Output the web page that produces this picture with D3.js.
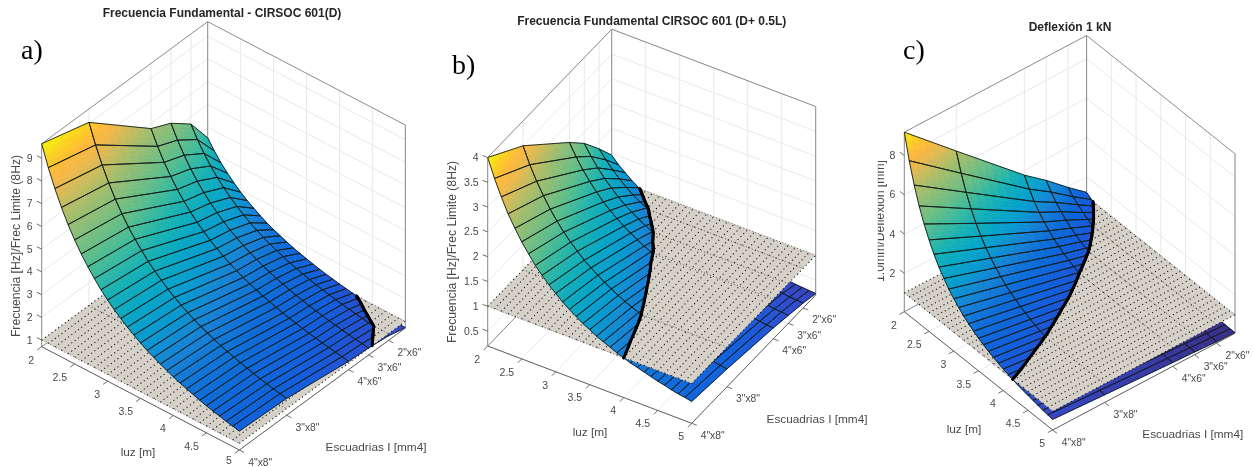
<!DOCTYPE html>
<html><head><meta charset="utf-8">
<style>html,body{margin:0;padding:0;background:#fff}svg{display:block;filter:blur(.35px)}</style>
<script src="https://cdn.jsdelivr.net/npm/d3@7"></script>
</head><body><svg id="chart" width="1254" height="467"></svg>
<script>
// ---------- data ----------
const luz = [2,2.1,2.2,2.3,2.4,2.5,2.6,2.7,2.8,2.9,3,3.1,3.2,3.3,3.4,3.5,3.6,3.7,3.8,3.9,4,4.1,4.2,4.3,4.4,4.5,4.6,4.7,4.8,4.9,5];
const inertia = [2048,1536,864,648,432,250];
const inertiaLabels = ['4"x8"','3"x8"','4"x6"','3"x6"','2"x6"'];
const luzTicks = [2,2.5,3,3.5,4,4.5,5];
const limitLevel = 1;

const freqD = [
 [9.64,8.74,7.97,7.29,6.69,6.17,5.70,5.29,4.92,4.58,4.28,4.01,3.77,3.54,3.34,3.15,2.97,2.82,2.67,2.54,2.41,2.29,2.19,2.09,1.99,1.90,1.82,1.75,1.67,1.61,1.54],
 [9.05,8.21,7.48,6.84,6.28,5.79,5.35,4.97,4.62,4.30,4.02,3.77,3.53,3.32,3.13,2.95,2.79,2.64,2.51,2.38,2.26,2.15,2.05,1.96,1.87,1.79,1.71,1.64,1.57,1.51,1.45],
 [6.77,6.14,5.59,5.12,4.70,4.33,4.01,3.71,3.45,3.22,3.01,2.82,2.64,2.49,2.34,2.21,2.09,1.98,1.88,1.78,1.69,1.61,1.54,1.46,1.40,1.34,1.28,1.23,1.18,1.13,1.08],
 [6.36,5.77,5.26,4.81,4.42,4.07,3.76,3.49,3.24,3.02,2.83,2.65,2.48,2.34,2.20,2.08,1.96,1.86,1.76,1.67,1.59,1.51,1.44,1.38,1.31,1.26,1.20,1.15,1.10,1.06,1.02],
 [5.68,5.15,4.69,4.29,3.94,3.64,3.36,3.12,2.90,2.70,2.52,2.36,2.22,2.09,1.97,1.85,1.75,1.66,1.57,1.49,1.42,1.35,1.29,1.23,1.17,1.12,1.07,1.03,.99,.95,.91],
 [4.53,4.11,3.74,3.43,3.15,2.90,2.68,2.49,2.31,2.15,2.01,1.89,1.77,1.66,1.57,1.48,1.40,1.32,1.25,1.19,1.13,1.08,1.03,.98,.94,.89,.86,.82,.79,.75,.72]
];
const freqDL = [
 [4.00,3.63,3.31,3.02,2.78,2.56,2.37,2.19,2.04,1.90,1.78,1.66,1.56,1.47,1.38,1.31,1.23,1.17,1.11,1.05,1.00,.95,.91,.87,.83,.79,.76,.72,.69,.67,.64],
 [3.50,3.17,2.89,2.65,2.43,2.24,2.07,1.92,1.79,1.66,1.56,1.46,1.37,1.29,1.21,1.14,1.08,1.02,.97,.92,.88,.83,.79,.76,.72,.69,.66,.63,.61,.58,.56],
 [2.60,2.36,2.15,1.97,1.81,1.66,1.54,1.43,1.33,1.24,1.16,1.08,1.02,.95,.90,.85,.80,.76,.72,.68,.65,.62,.59,.56,.54,.51,.49,.47,.45,.43,.42],
 [2.27,2.06,1.88,1.72,1.58,1.45,1.34,1.25,1.16,1.08,1.01,.94,.89,.83,.79,.74,.70,.66,.63,.60,.57,.54,.51,.49,.47,.45,.43,.41,.39,.38,.36],
 [1.85,1.68,1.53,1.40,1.28,1.18,1.09,1.02,.94,.88,.82,.77,.72,.68,.64,.60,.57,.54,.51,.49,.46,.44,.42,.40,.38,.37,.35,.34,.32,.31,.30],
 [1.46,1.32,1.21,1.10,1.01,.93,.86,.80,.74,.69,.65,.61,.57,.54,.51,.48,.45,.43,.40,.38,.37,.35,.33,.32,.30,.29,.28,.26,.25,.24,.23]
];
const deflexion = [
 [9.19,7.94,6.90,6.04,5.32,4.71,4.18,3.73,3.35,3.01,2.72,2.47,2.24,2.05,1.87,1.71,1.58,1.45,1.34,1.24,1.15,1.07,.99,.92,.86,.81,.76,.71,.66,.62,.59],
 [6.83,5.90,5.13,4.49,3.95,3.50,3.11,2.78,2.49,2.24,2.02,1.83,1.67,1.52,1.39,1.27,1.17,1.08,1.00,.92,.85,.79,.74,.69,.64,.60,.56,.53,.49,.46,.44],
 [3.76,3.25,2.82,2.47,2.18,1.93,1.71,1.53,1.37,1.23,1.11,1.01,.92,.84,.77,.70,.64,.59,.55,.51,.47,.44,.41,.38,.35,.33,.31,.29,.27,.26,.24],
 [2.90,2.51,2.18,1.91,1.68,1.48,1.32,1.18,1.06,.95,.86,.78,.71,.65,.59,.54,.50,.46,.42,.39,.36,.34,.31,.29,.27,.25,.24,.22,.21,.20,.19],
 [1.95,1.68,1.47,1.28,1.13,1.00,.89,.79,.71,.64,.58,.52,.48,.43,.40,.36,.33,.31,.28,.26,.24,.23,.21,.20,.18,.17,.16,.15,.14,.13,.12],
 [1.20,1.04,.90,.79,.69,.61,.55,.49,.44,.39,.36,.32,.29,.27,.24,.22,.21,.19,.17,.16,.15,.14,.13,.12,.11,.11,.10,.09,.09,.08,.08]
];
const zTicksA = [1,2,3,4,5,6,7,8,9];
const zTicksB = [0.5,1,1.5,2,2.5,3,3.5,4];
const zTicksC = [2,4,6,8];
const parula = ['#352a87','#3145cc','#0f5cdd','#0a6bd9','#1481d6','#069ad0','#06a7c4','#15b1b4','#38b99e','#5fbd88','#80bd7c','#9cbd6e','#c0bc60','#e8b84e','#ffb83a','#fbd21f','#f5f50c'];

// ---------- layout ----------
const panels = [
 {name:'a)', nameX:21, nameY:59, title:'Frecuencia Fundamental - CIRSOC 601(D)', titleX:222, titleY:17,
  z:freqD, zTicks:zTicksA, zDomain:[0.71,9.64], colorDomain:[0.2,9.64], height:203, left:[41.7,346.7], front:[239.3,450], right:[405.3,328],
  zLabel:'Frecuencia [Hz]/Frec Limite (8Hz)', zLabelX:19.5, zLabelY:246,
  luzLabel:[138,456], iLabel:[376,451]},
 {name:'b)', nameX:452, nameY:74, title:'Frecuencia Fundamental CIRSOC 601 (D+ 0.5L)', titleX:651.7, titleY:25,
  z:freqDL, zTicks:zTicksB, zDomain:[0.2,4], colorDomain:[0.05,4], height:188.5, left:[487.7,346], front:[691.7,423.3], right:[815.7,295],
  zLabel:'Frecuencia [Hz]/Frec Limite (8Hz)', zLabelX:456, zLabelY:252,
  luzLabel:[590,436], iLabel:[817,423]},
 {name:'c)', nameX:903, nameY:59, title:'Deflexión 1 kN', titleX:1070, titleY:31,
  z:deflexion, zTicks:zTicksC, zDomain:[0.05,9.19], colorDomain:[0.08,9.19], height:179.5, left:[904.3,311.7], front:[1052.7,430], right:[1235,333.3],
  zLabel:'1.0mm/Deflexión [mm]', zLabelX:884, zLabelY:221, zLabelClip:877.8,
  luzLabel:[964,433], iLabel:[1192.8,438]}
];
const subCols = 8, subRows = 4;
const svg = d3.select('#chart');
const sansFont = '"Liberation Sans",Arial,sans-serif';
const line = d3.line();
const colorStops = d3.scaleLinear().domain(parula.map((c,i)=>i/(parula.length-1))).range(parula).interpolate(d3.interpolateRgb).clamp(true);

function splitAtLevel(poly, level){
  const up=[], down=[], cut=[];
  poly.forEach((p,k)=>{
    const q=poly[(k+1)%poly.length];
    const pu=p.z>=level, qu=q.z>=level;
    (pu?up:down).push(p);
    if(pu!==qu){
      const s=(level-p.z)/(q.z-p.z);
      const m={L:p.L+s*(q.L-p.L), I:p.I+s*(q.I-p.I), z:level};
      up.push(m); down.push(m); cut.push(m);
    }
  });
  return {up,down,cut};
}

panels.forEach((P,pi)=>{
  const g = svg.append('g');
  const uL = d3.scaleLinear().domain([luz[0],luz[luz.length-1]]).range([0,1]);
  const uI = d3.scaleLinear().domain([inertia[0],inertia[inertia.length-1]]).range([0,1]);
  const zY = d3.scaleLinear().domain(P.zDomain).range([0,P.height]);
  const project = (L,I,z)=>{
    const a=uL(L), b=uI(I);
    return [P.left[0]+a*(P.front[0]-P.left[0])+b*(P.right[0]-P.front[0]),
            P.left[1]+a*(P.front[1]-P.left[1])+b*(P.right[1]-P.front[1])-zY(z)];
  };
  const pv = v=>project(v.L,v.I,v.z);
  const color = d3.scaleLinear().domain(P.colorDomain).range([0,1]);
  const cmap = z=>colorStops(color(z));
  const L0=luz[0], L1=luz[luz.length-1], I0=inertia[0], I1=inertia[inertia.length-1];
  const [zb,zt]=P.zDomain;

  const lines=(sel,data,stroke,w,extra)=>{
    const s=sel.append('g').attr('fill','none').attr('stroke',stroke).attr('stroke-width',w);
    if(extra) s.attr('stroke-dasharray',extra);
    s.selectAll('path').data(data).join('path').attr('d',d=>line(d));
    return s;
  };

  const grid=[];
  P.zTicks.forEach(z=>{ grid.push([project(L0,I0,z),project(L0,I1,z),project(L1,I1,z)]); });
  inertia.slice(0,5).forEach(I=>{ grid.push([project(L0,I,zt),project(L0,I,zb),project(L1,I,zb)]); });
  luzTicks.forEach(L=>{ grid.push([project(L,I1,zt),project(L,I1,zb),project(L,I0,zb)]); });
  lines(g,grid,'#e9e9e9',1);
  lines(g,[
    [project(L0,I0,zb),project(L0,I0,zt),project(L0,I1,zt),project(L1,I1,zt),project(L1,I1,zb)],
    [project(L0,I1,zb),project(L0,I1,zt)],
    [project(L0,I0,zb),project(L0,I1,zb),project(L1,I1,zb)]
  ],'#8c8c8c',1);

  const above={fills:[],edges:[]}, below={fills:[],edges:[]}, contour=[];
  for(let j=inertia.length-2;j>=0;j--) for(let i=0;i<luz.length-1;i++){
    const z00=P.z[j][i], z01=P.z[j][i+1], z10=P.z[j+1][i], z11=P.z[j+1][i+1];
    const node=(a,b)=>({
      L:luz[i]+b*(luz[i+1]-luz[i]),
      I:inertia[j]+a*(inertia[j+1]-inertia[j]),
      z:z00*(1-a)*(1-b)+z10*a*(1-b)+z01*(1-a)*b+z11*a*b});
    for(let a=0;a<subCols;a++) for(let b=0;b<subRows;b++){
      const poly=[node(a/subCols,b/subRows),node((a+1)/subCols,b/subRows),node((a+1)/subCols,(b+1)/subRows),node(a/subCols,(b+1)/subRows)];
      const {up,down,cut}=splitAtLevel(poly,limitLevel);
      const add=(vs,into)=>{ if(vs.length>2){ const c=cmap(d3.mean(vs,v=>v.z)); into.fills.push({pts:vs.map(pv),c}); } };
      add(up,above); add(down,below);
      if(cut.length===2) contour.push(cut.map(pv));
    }
    [[node(0,0),node(1,0)],[node(1,0),node(1,1)],[node(1,1),node(0,1)],[node(0,1),node(0,0)]].forEach(([p,q])=>{
      const pu=p.z>=limitLevel, qu=q.z>=limitLevel;
      if(pu===qu){ (pu?above:below).edges.push([pv(p),pv(q)]); }
      else{
        const s=(limitLevel-p.z)/(q.z-p.z);
        const m={L:p.L+s*(q.L-p.L),I:p.I+s*(q.I-p.I),z:limitLevel};
        (pu?above:below).edges.push([pv(p),pv(m)]);
        (pu?below:above).edges.push([pv(m),pv(q)]);
      }
    });
  }
  const drawSurf=(part)=>{
    const s=g.append('g');
    s.selectAll('path').data(part.fills).join('path')
      .attr('d',d=>line(d.pts)+'Z').attr('fill',d=>d.c).attr('stroke',d=>d.c).attr('stroke-width',.6);
    lines(g,part.edges,'#14201f',.9);
  };
  drawSurf(below);

  g.append('path').attr('d',line([project(L0,I0,limitLevel),project(L0,I1,limitLevel),project(L1,I1,limitLevel),project(L1,I0,limitLevel)])+'Z')
    .attr('fill','#d5d1c9');
  const planeRows=luz.map(L=>[project(L,I0,limitLevel),project(L,I1,limitLevel)]);
  const planeCols=inertia.map(I=>[project(L0,I,limitLevel),project(L1,I,limitLevel)]);
  lines(g,planeRows,'#111',1.1,'1.1 3');
  lines(g,planeCols,'#333',.8,'1 2.2');

  drawSurf(above);
  lines(g,contour,'#000',3).attr('stroke-linecap','round');

  lines(g,[[project(L0,I0,zb),project(L1,I0,zb),project(L1,I1,zb)]],'#5f5f5f',1);
  const iv=[P.right[0]-P.front[0],P.right[1]-P.front[1]], iL=Math.hypot(...iv);
  const lv=[P.front[0]-P.left[0],P.front[1]-P.left[1]], lL=Math.hypot(...lv);
  const tk=5.5;
  const ticks=[];
  luzTicks.forEach(L=>{const p=project(L,I0,zb);ticks.push([p,[p[0]-iv[0]/iL*tk,p[1]-iv[1]/iL*tk]]);});
  inertia.slice(0,5).forEach(I=>{const p=project(L1,I,zb);ticks.push([p,[p[0]+lv[0]/lL*tk,p[1]+lv[1]/lL*tk]]);});
  P.zTicks.forEach(z=>{const p=project(L0,I0,z);ticks.push([p,[p[0]-lv[0]/lL*tk,p[1]-lv[1]/lL*tk]]);});
  lines(g,ticks,'#5f5f5f',.9);

  const text=(x,y,s,size,anchor,fill)=>g.append('text').attr('x',x).attr('y',y).text(s)
    .attr('font-family',sansFont).attr('font-size',size).attr('text-anchor',anchor).attr('fill',fill);
  luzTicks.forEach(L=>{const p=project(L,I0,zb);text(p[0]-7.5,Math.min(p[1]+16.8,464.4),String(L),10.5,'end','#4a4a4a');});
  inertiaLabels.forEach((s,k)=>{const p=project(L1,inertia[k],zb);text(p[0]+9,p[1]+15.5,s,10.3,'start','#4a4a4a');});
  P.zTicks.forEach(z=>{const p=project(L0,I0,z);text(p[0]-9,p[1]+3.5,String(z),10.5,'end','#4a4a4a');});
  text(P.luzLabel[0],P.luzLabel[1],'luz [m]',11.8,'middle','#4a4a4a');
  text(P.iLabel[0],P.iLabel[1],'Escuadrias I [mm4]',11.8,'middle','#4a4a4a');

  const zl=text(0,0,P.zLabel,12.2,'middle','#4a4a4a')
    .attr('transform',`translate(${P.zLabelX},${P.zLabelY}) rotate(-90)`);
  if(P.zLabelClip){
    const id='clip'+pi;
    svg.append('clipPath').attr('id',id).append('rect').attr('x',P.zLabelClip).attr('y',0).attr('width',60).attr('height',467);
    const wrap=g.append('g').attr('clip-path',`url(#${id})`);
    wrap.node().appendChild(zl.node());
  }
  text(P.titleX,P.titleY,P.title,12,'middle','#262626').attr('font-weight','bold');
  g.append('text').attr('x',P.nameX).attr('y',P.nameY).text(P.name)
    .attr('font-family','"Liberation Serif","Times New Roman",serif').attr('font-size',28).attr('fill','#000');
});
</script></body></html>
